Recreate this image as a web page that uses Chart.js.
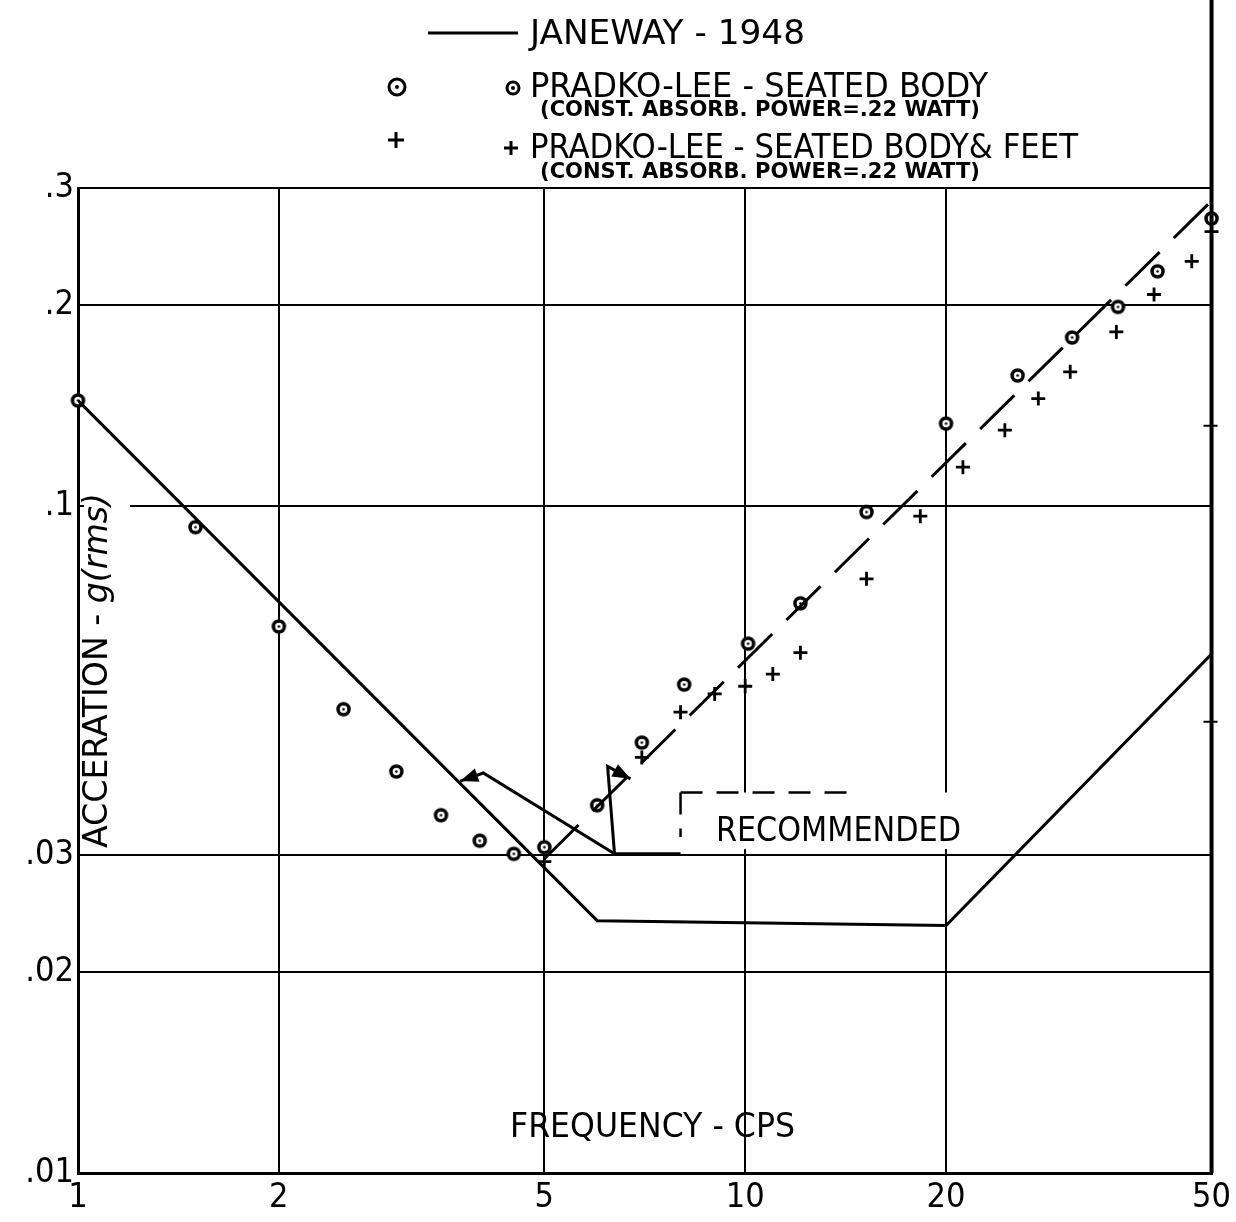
<!DOCTYPE html>
<html>
<head>
<meta charset="utf-8">
<script src="https://cdn.jsdelivr.net/npm/chart.js@4.4.0/dist/chart.umd.min.js"></script>
<style>
  body { margin: 0; background: #fff; }
  canvas { display: block; }
</style>
</head>
<body>
<canvas id="chart" width="1236" height="1222"></canvas>
<script>
// -------------------------------
// Data
// -------------------------------
const xTicks = [1, 2, 5, 10, 20, 50];
const xTickLabels = ["1", "2", "5", "10", "20", "50"];
const yTicks = [0.01, 0.02, 0.03, 0.1, 0.2, 0.3];
const yTickLabels = [".01", ".02", ".03", ".1", ".2", ".3"];

// Janeway - 1948 (solid line)
const janewayFreq = [1, 6, 20, 50];
const janewayAcc = [0.144, 0.0239, 0.0235, 0.06];

// Recommended (dashed line)
const recFreq = [5, 50];
const recAcc = [0.0296, 0.287];

// Pradko-Lee, seated body
const seatedFreq = [1, 1.5, 2, 2.5, 3, 3.5, 4, 4.5, 5, 6, 7, 8.1, 10.1, 12.1, 15.2, 20, 25.6, 30.9, 36.2, 41.5, 50];
const seatedAcc = [0.144, 0.093, 0.066, 0.0496, 0.04, 0.0344, 0.0315, 0.0301, 0.0308, 0.0356, 0.0442, 0.054, 0.0622, 0.0715, 0.098, 0.133, 0.157, 0.179, 0.199, 0.225, 0.27];

// Pradko-Lee, seated body & feet
const feetFreq = [5, 7, 8, 9, 10, 11, 12.1, 15.2, 18.3, 21.2, 24.5, 27.5, 30.7, 36, 41, 46.7, 50];
const feetAcc = [0.0293, 0.042, 0.0491, 0.0523, 0.0537, 0.056, 0.0603, 0.0778, 0.0966, 0.1144, 0.13, 0.145, 0.159, 0.1825, 0.2077, 0.2329, 0.258];

// "RECOMMENDED" label, box and pointer lines (frequency, acceleration)
const recLabel = [9.04, 0.0324];
const recBoxFreq = [8.0, 24.5];
const recBoxAcc = [0.0306, 0.0372];
const pointerCorner = [6.37, 0.0301];
const pointerLeft = [[4.05, 0.0398], [3.74, 0.0387]];
const pointerUp = [[6.22, 0.0407], [6.73, 0.039]];
const pointerFoot = [8.0, 0.0301];

// small marks on the right edge
const rightMarks = [0.132, 0.0475];

const FONT = '"DejaVu Sans Condensed", "Liberation Sans Narrow", "DejaVu Sans", sans-serif';

// -------------------------------
// Helpers
// -------------------------------
function pairs(xs, ys) {
    return xs.map((v, i) => ({ x: v, y: ys[i] }));
}

function ringCanvas(r, lw, dot) {
    const c = document.createElement("canvas");
    const s = Math.ceil(2 * r + lw + 2);
    c.width = c.height = s;
    const g = c.getContext("2d");
    g.beginPath();
    g.arc(s / 2, s / 2, r, 0, Math.PI * 2);
    g.fillStyle = "#fff";
    g.fill();
    g.lineWidth = lw;
    g.strokeStyle = "#000";
    g.stroke();
    g.beginPath();
    g.arc(s / 2, s / 2, dot, 0, Math.PI * 2);
    g.fillStyle = "#000";
    g.fill();
    return c;
}

// draws text squeezed/stretched to a given width, left edge at x, middle at y
function fitText(ctx, str, x, y, size, w, weight) {
    ctx.save();
    ctx.font = `${weight || "normal"} ${size}px ${FONT}`;
    ctx.textAlign = "left";
    ctx.textBaseline = "middle";
    const m = ctx.measureText(str).width;
    ctx.translate(x, y);
    ctx.scale(w / m, 1);
    ctx.fillText(str, 0, 0);
    ctx.restore();
}

function ring(ctx, x, y, r) {
    ctx.beginPath();
    ctx.arc(x, y, r, 0, Math.PI * 2);
    ctx.lineWidth = 3;
    ctx.stroke();
    ctx.beginPath();
    ctx.arc(x, y, 2, 0, Math.PI * 2);
    ctx.fill();
}

function plus(ctx, x, y, r) {
    ctx.lineWidth = 3;
    ctx.beginPath();
    ctx.moveTo(x - r, y); ctx.lineTo(x + r, y);
    ctx.moveTo(x, y - r); ctx.lineTo(x, y + r);
    ctx.stroke();
}

function arrowHead(ctx, x0, y0, x1, y1, len, half) {
    const a = Math.atan2(y1 - y0, x1 - x0);
    ctx.beginPath();
    ctx.moveTo(x1, y1);
    ctx.lineTo(x1 - len * Math.cos(a) + half * Math.sin(a), y1 - len * Math.sin(a) - half * Math.cos(a));
    ctx.lineTo(x1 - len * Math.cos(a) - half * Math.sin(a), y1 - len * Math.sin(a) + half * Math.cos(a));
    ctx.closePath();
    ctx.fill();
}

// -------------------------------
// Plugin: paper decorations
// -------------------------------
const paper = {
    id: "paper",
    beforeDatasetsDraw(chart) {
        const { ctx, scales: { x, y } } = chart;
        ctx.save();
        ctx.fillStyle = "#fff";
        // clear behind axis title
        ctx.fillRect(84, 486, 46, 366);
        // clear behind RECOMMENDED label
        const bx0 = x.getPixelForValue(recBoxFreq[0]);
        const bx1 = x.getPixelForValue(recBoxFreq[1]);
        const by0 = y.getPixelForValue(recBoxAcc[1]);
        const by1 = y.getPixelForValue(recBoxAcc[0]);
        ctx.fillRect(bx0, by0, bx1 - bx0, by1 - by0);
        // dashed box edges
        ctx.strokeStyle = "#000";
        ctx.lineWidth = 2.5;
        ctx.setLineDash([22, 14]);
        ctx.beginPath();
        ctx.moveTo(bx0, by0);
        ctx.lineTo(bx0 + (bx1 - bx0) * 0.55, by0);
        ctx.moveTo(bx0, by0);
        ctx.lineTo(bx0, by1 - 12);
        ctx.stroke();
        ctx.restore();
    },
    afterDraw(chart) {
        const { ctx, scales: { x, y }, chartArea } = chart;
        ctx.save();
        ctx.fillStyle = "#000";
        ctx.strokeStyle = "#000";

        // heavy right edge running up to the page top
        const xr = x.getPixelForValue(50);
        ctx.lineWidth = 4;
        ctx.beginPath();
        ctx.moveTo(xr, 0);
        ctx.lineTo(xr, chartArea.bottom);
        ctx.stroke();
        ctx.lineWidth = 2;
        rightMarks.forEach(v => {
            const py = y.getPixelForValue(v);
            ctx.beginPath();
            ctx.moveTo(xr - 8, py);
            ctx.lineTo(xr + 6, py);
            ctx.stroke();
        });

        // pointer lines for RECOMMENDED
        const P = p => [x.getPixelForValue(p[0]), y.getPixelForValue(p[1])];
        const c = P(pointerCorner);
        const l0 = P(pointerLeft[0]), l1 = P(pointerLeft[1]);
        const u0 = P(pointerUp[0]), u1 = P(pointerUp[1]);
        const f = P(pointerFoot);
        ctx.lineWidth = 3;
        ctx.beginPath();
        ctx.moveTo(f[0], f[1]);
        ctx.lineTo(c[0], c[1]);
        ctx.lineTo(l0[0], l0[1]);
        ctx.lineTo(l1[0], l1[1]);
        ctx.moveTo(c[0], c[1]);
        ctx.lineTo(u0[0], u0[1]);
        ctx.lineTo(u1[0], u1[1]);
        ctx.stroke();
        arrowHead(ctx, l0[0], l0[1], l1[0], l1[1], 18, 7);
        arrowHead(ctx, u0[0], u0[1], u1[0], u1[1], 18, 7);

        const rl = P(recLabel);
        fitText(ctx, "RECOMMENDED", rl[0], rl[1], 34, 245);

        // axis titles inside the frame
        fitText(ctx, "FREQUENCY - CPS", 510, 1128, 34, 285);

        ctx.save();
        ctx.translate(98, 848);
        ctx.rotate(-Math.PI / 2);
        ctx.textBaseline = "middle";
        ctx.font = `normal 34px ${FONT}`;
        const p1 = "ACCERATION - ";
        const w1 = ctx.measureText(p1).width;
        ctx.font = `italic 34px ${FONT}`;
        const p2 = "g(rms)";
        const w2 = ctx.measureText(p2).width;
        ctx.scale(355 / (w1 + w2), 1);
        ctx.font = `normal 34px ${FONT}`;
        ctx.fillText(p1, 0, 0);
        ctx.font = `italic 34px ${FONT}`;
        ctx.fillText(p2, w1, 0);
        ctx.restore();

        // legend block
        ctx.lineWidth = 3;
        ctx.beginPath();
        ctx.moveTo(428, 33);
        ctx.lineTo(518, 33);
        ctx.stroke();
        fitText(ctx, "JANEWAY - 1948", 530, 35, 34, 275);

        ring(ctx, 397, 87, 8);
        ring(ctx, 513, 88, 6);
        fitText(ctx, "PRADKO-LEE - SEATED BODY", 530, 88, 34, 458);
        fitText(ctx, "(CONST. ABSORB. POWER=.22 WATT)", 540, 110, 22, 440, "bold");

        plus(ctx, 396, 140, 8);
        plus(ctx, 511, 148, 7);
        fitText(ctx, "PRADKO-LEE - SEATED BODY& FEET", 530, 149, 34, 548);
        fitText(ctx, "(CONST. ABSORB. POWER=.22 WATT)", 540, 172, 22, 440, "bold");

        ctx.restore();
    }
};

// -------------------------------
// Chart
// -------------------------------
const tickFont = { family: FONT, size: 34 };

new Chart(document.getElementById("chart"), {
    type: "scatter",
    data: {
        datasets: [
            {
                label: "JANEWAY - 1948",
                data: pairs(janewayFreq, janewayAcc),
                showLine: true,
                borderColor: "#000",
                borderWidth: 3,
                pointRadius: 0
            },
            {
                label: "RECOMMENDED",
                data: pairs(recFreq, recAcc),
                showLine: true,
                borderColor: "#000",
                borderWidth: 3,
                borderDash: [48, 20],
                pointRadius: 0
            },
            {
                label: "PRADKO-LEE - SEATED BODY",
                data: pairs(seatedFreq, seatedAcc),
                pointStyle: ringCanvas(5.5, 3.5, 1.3),
                pointRadius: 7,
                clip: false
            },
            {
                label: "PRADKO-LEE - SEATED BODY & FEET",
                data: pairs(feetFreq, feetAcc),
                pointStyle: "cross",
                pointRadius: 7,
                borderColor: "#000",
                borderWidth: 2.8,
                clip: false
            }
        ]
    },
    options: {
        responsive: false,
        animation: false,
        layout: { padding: { top: 188, right: 21, left: 0, bottom: 0 } },
        plugins: {
            legend: { display: false },
            tooltip: { enabled: false }
        },
        scales: {
            x: {
                type: "logarithmic",
                min: 1,
                max: 50,
                afterBuildTicks: s => { s.ticks = xTicks.map(v => ({ value: v })); },
                afterFit: s => { s.height = 49; },
                ticks: {
                    callback: (v, i) => xTickLabels[i],
                    font: tickFont,
                    color: "#000",
                    padding: 5,
                    maxRotation: 0,
                    autoSkip: false
                },
                grid: { color: "#000", lineWidth: 2, drawTicks: false },
                border: { color: "#000", width: 3 }
            },
            y: {
                type: "logarithmic",
                min: 0.01,
                max: 0.3,
                afterBuildTicks: s => { s.ticks = yTicks.map(v => ({ value: v })); },
                afterFit: s => { s.width = 78; },
                ticks: {
                    callback: (v, i) => yTickLabels[i],
                    font: tickFont,
                    color: "#000",
                    padding: 4,
                    autoSkip: false
                },
                grid: { color: "#000", lineWidth: 2, drawTicks: false },
                border: { color: "#000", width: 3 }
            }
        }
    },
    plugins: [paper]
});
</script>
</body>
</html>
